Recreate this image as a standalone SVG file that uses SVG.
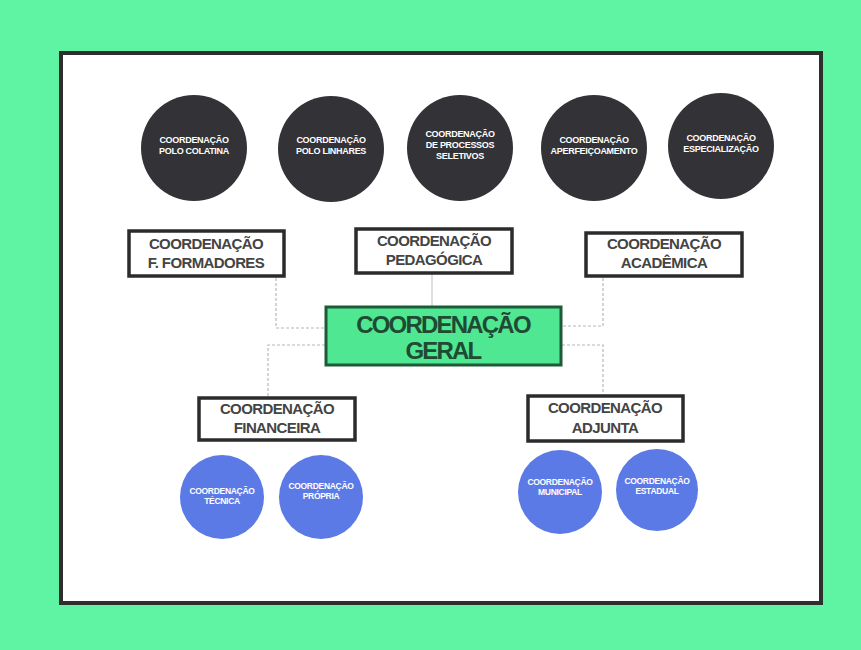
<svg xmlns="http://www.w3.org/2000/svg" width="861" height="650" viewBox="0 0 861 650">
<style>
.dk{fill:#333236}
.bl{fill:#5c7ae6}
.ct{fill:#ffffff;font-family:"Liberation Sans",sans-serif;font-weight:bold;font-size:9px;text-anchor:middle;letter-spacing:-0.3px}
.cs{font-size:8.5px}
.box{fill:#ffffff;stroke:#2b2b2b;stroke-width:3.5}
.bt{fill:#444444;font-family:"Liberation Sans",sans-serif;font-weight:bold;font-size:15px;text-anchor:middle;letter-spacing:-0.6px}
.gt{fill:#1f4a33;font-family:"Liberation Sans",sans-serif;font-weight:bold;font-size:24px;text-anchor:middle;letter-spacing:-1.8px}
.cn{fill:none;stroke:#b8b8b8;stroke-width:1.2;stroke-dasharray:3 2}
</style>
<rect x="0" y="0" width="861" height="650" fill="#5ef4a3"/>
<rect x="61" y="53" width="760" height="550" fill="#ffffff" stroke="#2e2e2e" stroke-width="4"/>
<g id="connectors">
<path class="cn" d="M276 278 V328 H325"/>
<path d="M432 273 V306" fill="none" stroke="#c8c8c8" stroke-width="1.2"/>
<path class="cn" d="M603 278 V326 H562"/>
<path class="cn" d="M325 345 H268 V397"/>
<path class="cn" d="M562 345 H603 V395"/>
</g>
<g id="n1"><circle class="dk" cx="194" cy="148" r="53"/><text class="ct" x="194" y="143">COORDENAÇÃO</text><text class="ct" x="194" y="154">POLO COLATINA</text></g>
<g id="n2"><circle class="dk" cx="331" cy="149" r="53"/><text class="ct" x="331" y="143">COORDENAÇÃO</text><text class="ct" x="331" y="154">POLO LINHARES</text></g>
<g id="n3"><circle class="dk" cx="460" cy="148" r="53"/><text class="ct" x="460" y="137">COORDENAÇÃO</text><text class="ct" x="460" y="148">DE PROCESSOS</text><text class="ct" x="460" y="159">SELETIVOS</text></g>
<g id="n4"><circle class="dk" cx="594" cy="148" r="53"/><text class="ct" x="594" y="143">COORDENAÇÃO</text><text class="ct" x="594" y="154">APERFEIÇOAMENTO</text></g>
<g id="n5"><circle class="dk" cx="721" cy="146" r="53"/><text class="ct" x="721" y="141">COORDENAÇÃO</text><text class="ct" x="721" y="152">ESPECIALIZAÇÃO</text></g>
<g id="b1"><rect class="box" x="129" y="231" width="155" height="45"/><text class="bt" x="206" y="249">COORDENAÇÃO</text><text class="bt" x="206" y="268">F. FORMADORES</text></g>
<g id="b2"><rect class="box" x="356" y="229" width="156" height="44"/><text class="bt" x="434" y="246">COORDENAÇÃO</text><text class="bt" x="434" y="265">PEDAGÓGICA</text></g>
<g id="b3"><rect class="box" x="586" y="233" width="156" height="43"/><text class="bt" x="664" y="249">COORDENAÇÃO</text><text class="bt" x="664" y="268">ACADÊMICA</text></g>
<g id="geral"><rect x="326" y="307" width="235" height="58" fill="#4fe791" stroke="#1d5a38" stroke-width="3"/><text class="gt" x="443" y="333">COORDENAÇÃO</text><text class="gt" x="443" y="359">GERAL</text></g>
<g id="b4"><rect class="box" x="199" y="398" width="156" height="42"/><text class="bt" x="277" y="414">COORDENAÇÃO</text><text class="bt" x="277" y="433">FINANCEIRA</text></g>
<g id="b5"><rect class="box" x="528" y="396" width="155" height="45"/><text class="bt" x="605" y="413">COORDENAÇÃO</text><text class="bt" x="605" y="433">ADJUNTA</text></g>
<g id="c1"><circle class="bl" cx="222" cy="497" r="42"/><text class="ct cs" x="222" y="494">COORDENAÇÃO</text><text class="ct cs" x="222" y="504">TÉCNICA</text></g>
<g id="c2"><circle class="bl" cx="321" cy="497" r="42"/><text class="ct cs" x="321" y="489">COORDENAÇÃO</text><text class="ct cs" x="321" y="499">PRÓPRIA</text></g>
<g id="c3"><circle class="bl" cx="560" cy="492" r="42"/><text class="ct cs" x="560" y="485">COORDENAÇÃO</text><text class="ct cs" x="560" y="495">MUNICIPAL</text></g>
<g id="c4"><circle class="bl" cx="657" cy="490" r="41"/><text class="ct cs" x="657" y="484">COORDENAÇÃO</text><text class="ct cs" x="657" y="494">ESTADUAL</text></g>
</svg>
